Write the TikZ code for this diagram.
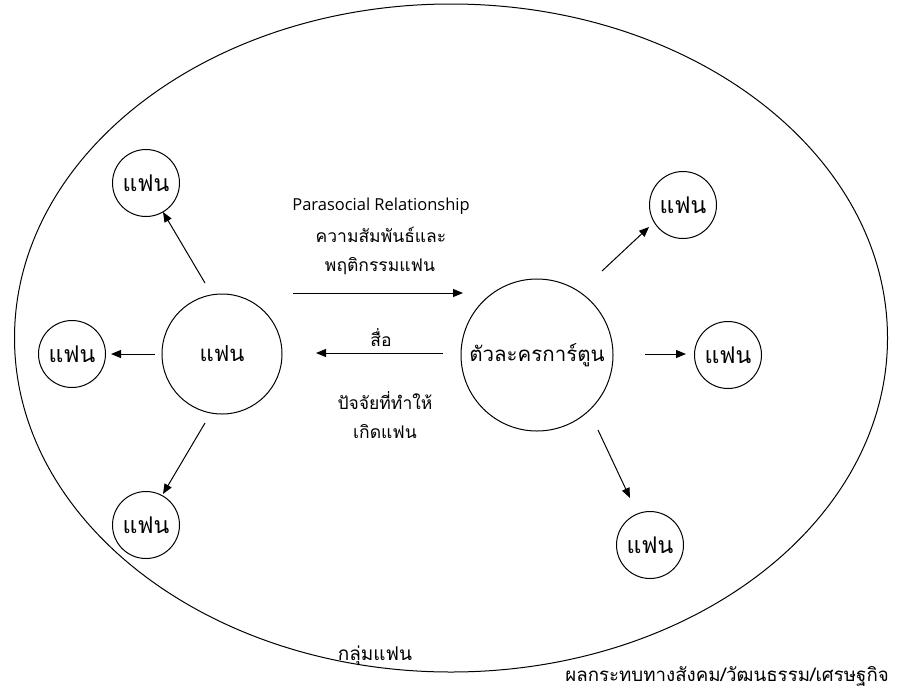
\documentclass[tikz,border=0pt]{standalone}
\usepackage{fontspec}
\newfontfamily\thaifont[Script=Thai]{Loma}
\newfontfamily\latinfont{Open Sans}
\usetikzlibrary{arrows.meta,shapes.geometric}
\begin{document}
\begin{tikzpicture}[x=1pt,y=-1pt,
  circ/.style={draw,circle,line width=1pt,inner sep=0pt},
  small/.style={circ,minimum size=67pt,font=\thaifont\fontsize{23}{26}\selectfont},
  arr/.style={-{Triangle[length=10pt,width=8pt]},line width=1pt},
  lbl/.style={font=\thaifont\fontsize{17.5}{20}\selectfont,inner sep=0pt}]
\useasboundingbox (0,0) rectangle (901,689);
\node[draw,ellipse,line width=1pt,minimum width=873pt,minimum height=668pt,inner sep=0pt] (group) at (451,338) {};
\node[circ,minimum size=120pt,font=\thaifont\fontsize{22}{24}\selectfont] (fan) at (222,354) {แฟน};
\node[circ,minimum size=152pt,font=\thaifont\fontsize{20.5}{23}\selectfont] (toon) at (537,355) {ตัวละครการ์ตูน};
\node[small] (f1) at (146,183) {แฟน};
\node[small] (f2) at (72,354) {แฟน};
\node[small] (f3) at (146,525) {แฟน};
\node[small] (f4) at (683,205) {แฟน};
\node[small] (f5) at (728,355) {แฟน};
\node[small] (f6) at (650,545) {แฟน};
\coordinate (a1s) at (205,283); \coordinate (a1e) at (163,212);
\coordinate (a2s) at (155,354); \coordinate (a2e) at (111,354);
\coordinate (a3s) at (205,423); \coordinate (a3e) at (163,494);
\coordinate (b1s) at (602,271); \coordinate (b1e) at (649,227);
\coordinate (b2s) at (645,354); \coordinate (b2e) at (686,354);
\coordinate (b3s) at (598,430); \coordinate (b3e) at (630,498);
\coordinate (ms) at (293,293); \coordinate (me) at (463,293);
\coordinate (ns) at (443,353); \coordinate (ne) at (316,353);
\draw[arr] (a1s) -- (a1e);
\draw[arr] (a2s) -- (a2e);
\draw[arr] (a3s) -- (a3e);
\draw[arr] (b1s) -- (b1e);
\draw[arr] (b2s) -- (b2e);
\draw[arr] (b3s) -- (b3e);
\draw[arr] (ms) -- (me);
\draw[arr] (ns) -- (ne);
\node[inner sep=0pt,font=\latinfont\fontsize{16.5}{18}\selectfont] (para) at (381,206) {Parasocial Relationship};
\node[lbl] (t1) at (381,235) {ความสัมพันธ์และ};
\node[lbl] (t2) at (380,266) {พฤติกรรมแฟน};
\node[lbl] (t3) at (381,338) {สื่อ};
\node[lbl] (t4) at (385,401) {ปัจจัยที่ทำให้};
\node[lbl] (t5) at (385,432) {เกิดแฟน};
\node[lbl,font=\thaifont\fontsize{19}{22}\selectfont] (grp) at (375,656) {กลุ่มแฟน};
\node[lbl,anchor=east,font=\thaifont\fontsize{18.7}{22}\selectfont] (impact) at (889,676) {ผลกระทบทางสังคม/วัฒนธรรม/เศรษฐกิจ};
\end{tikzpicture}
\end{document}
